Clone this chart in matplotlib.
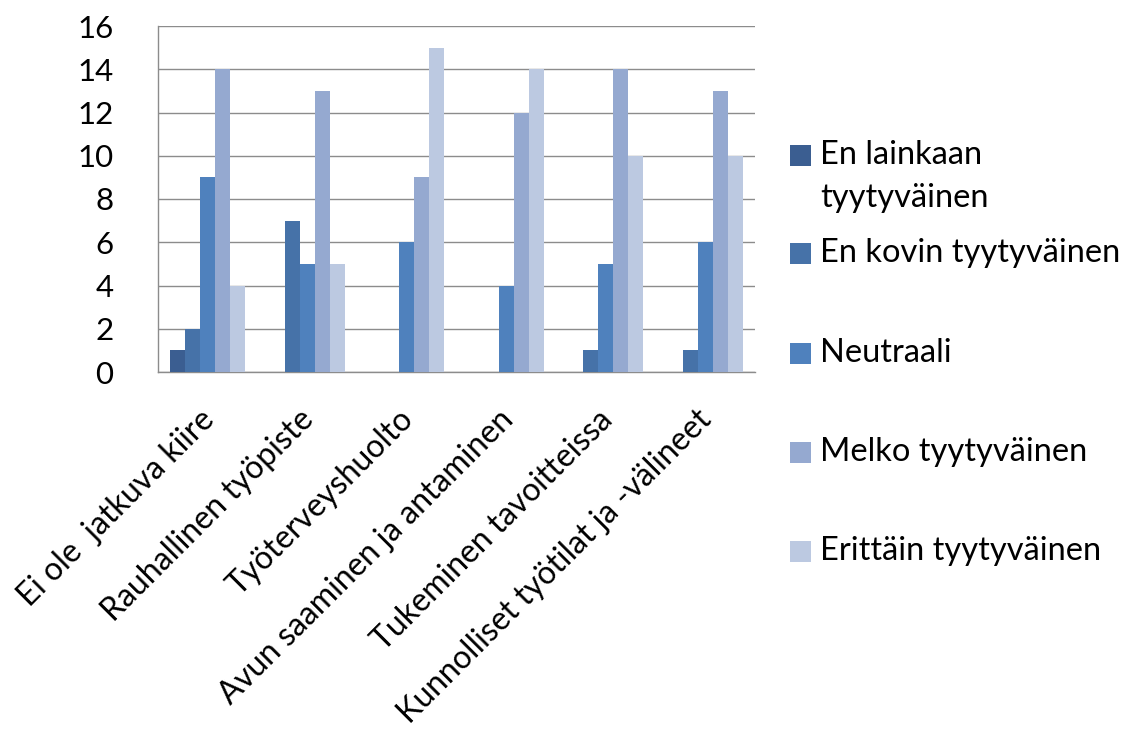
import matplotlib
matplotlib.use("Agg")
import matplotlib.pyplot as plt
from matplotlib.patches import Rectangle
from matplotlib.transforms import blended_transform_factory
import numpy as np

plt.rcParams['font.family'] = ['Lato', 'DejaVu Sans']

categories = [
    "Ei ole  jatkuva kiire",
    "Rauhallinen työpiste",
    "Työterveyshuolto",
    "Avun saaminen ja antaminen",
    "Tukeminen tavoitteissa",
    "Kunnolliset työtilat ja -välineet",
]
series_names = [
    "En lainkaan\ntyytyväinen",
    "En kovin tyytyväinen",
    "Neutraali",
    "Melko tyytyväinen",
    "Erittäin tyytyväinen",
]
en_lainkaan = [1, 0, 0, 0, 0, 0]
en_kovin = [2, 7, 0, 0, 1, 1]
neutraali = [9, 5, 6, 4, 5, 6]
melko = [14, 13, 9, 12, 14, 13]
erittain = [4, 5, 15, 14, 10, 10]
series_values = [en_lainkaan, en_kovin, neutraali, melko, erittain]
colors = ["#3B5E91", "#4672A8", "#4F81BD", "#95A9D0", "#BCC9E1"]
y_ticks = [0, 2, 4, 6, 8, 10, 12, 14, 16]

W, H = 1123, 733
fig = plt.figure(figsize=(W / 100, H / 100), dpi=100)

def fx(px):
    return px / W

def fy(py):
    return 1 - py / H

ax = fig.add_axes([fx(158), fy(372), fx(755) - fx(158), fy(26) - fy(372)])

x = np.arange(len(categories))
bw = 0.15
for i, (vals, col) in enumerate(zip(series_values, colors)):
    ax.bar(x + (i - 2) * bw, vals, width=bw, color=col, linewidth=0, zorder=3)

ax.set_xlim(-0.5, len(categories) - 0.5)
ax.set_ylim(0, 16)
ax.set_yticks(y_ticks)
ax.set_yticklabels([str(v) for v in y_ticks], fontsize=22.5)
ax.tick_params(axis='y', length=0, pad=32)
ax.tick_params(axis='x', length=0, labelbottom=False)
ax.set_xticks([])
ax.yaxis.grid(True, color="#8C8C8C", linewidth=1.0, zorder=0)
for side in ("top", "right"):
    ax.spines[side].set_visible(False)
for side in ("left", "bottom"):
    ax.spines[side].set_color("#8C8C8C")
    ax.spines[side].set_linewidth(1.0)

# rotated category labels: text ends just below each group centre
lab_tr = blended_transform_factory(ax.transData, fig.transFigure)
for xi, cat in zip(x, categories):
    fig.text(xi + 0.02, fy(415), cat, transform=lab_tr, rotation=45,
             rotation_mode='anchor', ha='right', va='center', fontsize=23,
             color="black")

# legend drawn at the right of the plot
legend_y = [155, 253, 353, 452, 551]
for name, col, yc in zip(series_names, colors, legend_y):
    fig.add_artist(Rectangle((fx(790), fy(yc + 10.5)), fx(21), fy(yc - 10.5) - fy(yc + 10.5),
                             transform=fig.transFigure, facecolor=col, edgecolor='none'))
    lines = name.split("\n")
    for k, line in enumerate(lines):
        fig.text(fx(820), fy(yc + 43 * k), line, ha='left', va='center',
                 fontsize=23.5, color="black")

fig.savefig("out.png", dpi=100, facecolor="white")
